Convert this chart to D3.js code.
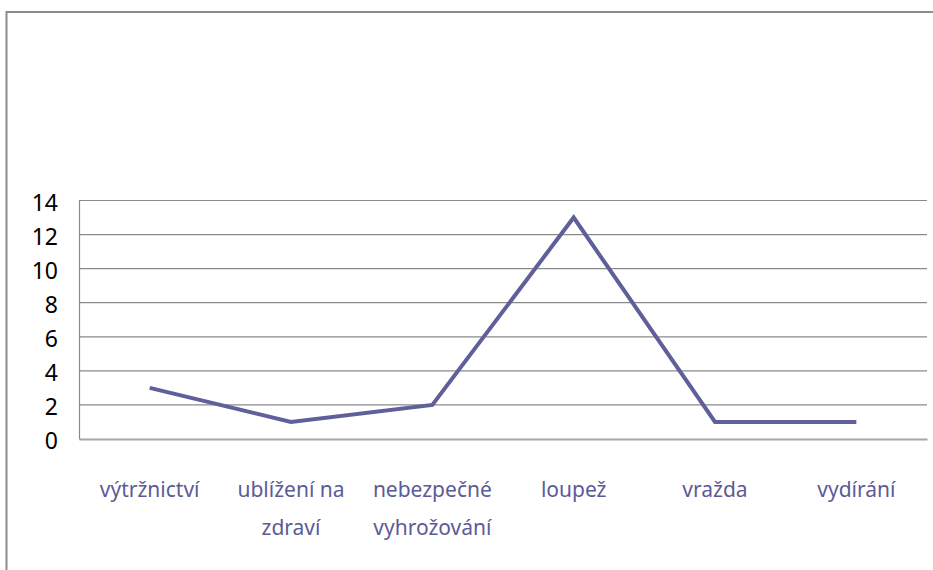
<!DOCTYPE html>
<html>
<head>
<meta charset="utf-8">
<script src="https://cdn.jsdelivr.net/npm/d3@7"></script>
<style>
  body { margin: 0; background: #fff; }
  svg { display: block; }
</style>
</head>
<body>
<div id="chart"></div>
<script>
// Data
const categories = ["výtržnictví", "ublížení na zdraví", "nebezpečné vyhrožování", "loupež", "vražda", "vydírání"];
const counts = [3, 1, 2, 13, 1, 1];
const yTicks = [0, 2, 4, 6, 8, 10, 12, 14];

// Label lines as they wrap in the original
const labelLines = {
    "ublížení na zdraví": ["ublížení na", "zdraví"],
    "nebezpečné vyhrožování": ["nebezpečné", "vyhrožování"]
};

const W = 933, H = 570;
const margin = {top: 200.5, right: 6, bottom: 131, left: 79},
      width = W - margin.left - margin.right,
      height = H - margin.top - margin.bottom;

const root = d3.select("#chart")
    .append("svg")
    .attr("width", W)
    .attr("height", H);

// Outer chart frame (only top and left are in view)
root.append("rect")
    .attr("x", 6.5).attr("y", 12)
    .attr("width", W + 20).attr("height", H + 20)
    .attr("fill", "none")
    .attr("stroke", "#8c8c8c")
    .attr("stroke-width", 2);

const svg = root.append("g")
    .attr("transform", `translate(${margin.left},${margin.top})`);

const x = d3.scaleBand()
    .domain(categories)
    .range([0, width]);

const y = d3.scaleLinear()
    .domain([0, 14])
    .range([height, 0]);

// Horizontal gridlines
svg.append("g")
    .selectAll("line")
    .data(yTicks.filter(d => d > 0))
    .enter()
    .append("line")
    .attr("x1", 0).attr("x2", width)
    .attr("y1", d => y(d)).attr("y2", d => y(d))
    .attr("stroke", "#8a8a8a")
    .attr("stroke-width", 1.2);

// Y axis (line + labels)
const yAxis = svg.append("g")
    .call(d3.axisLeft(y).tickValues(yTicks).tickSize(0).tickPadding(21));
yAxis.select(".domain").attr("stroke", "#8a8a8a").attr("stroke-width", 1.2);
yAxis.selectAll("text")
    .attr("font-family", "'Noto Sans', sans-serif")
    .attr("font-size", 23)
    .attr("fill", "#000")
    .attr("dy", "0.42em");

// X axis baseline and category labels
const xAxis = svg.append("g")
    .attr("transform", `translate(0,${height})`)
    .call(d3.axisBottom(x).tickSize(0).tickFormat(""));
xAxis.select(".domain").attr("stroke", "#a6a6a6").attr("stroke-width", 2);

xAxis.selectAll(".tick text").remove();
xAxis.selectAll(".tick").append("text")
    .attr("font-family", "'Noto Sans', sans-serif")
    .attr("font-size", 21)
    .attr("fill", "#5b5b97")
    .attr("text-anchor", "middle")
    .each(function(d) {
        const lines = labelLines[d] || [d];
        d3.select(this).selectAll("tspan")
            .data(lines)
            .enter()
            .append("tspan")
            .attr("x", 0)
            .attr("y", (l, i) => 58 + i * 38)
            .text(l => l);
    });

// The line
const line = d3.line()
    .x((d, i) => x(categories[i]) + x.bandwidth() / 2)
    .y(d => y(d));

svg.append("path")
    .datum(counts)
    .attr("fill", "none")
    .attr("stroke", "#5f5f9a")
    .attr("stroke-width", 4)
    .attr("stroke-linejoin", "miter")
    .attr("d", line);
</script>
</body>
</html>
